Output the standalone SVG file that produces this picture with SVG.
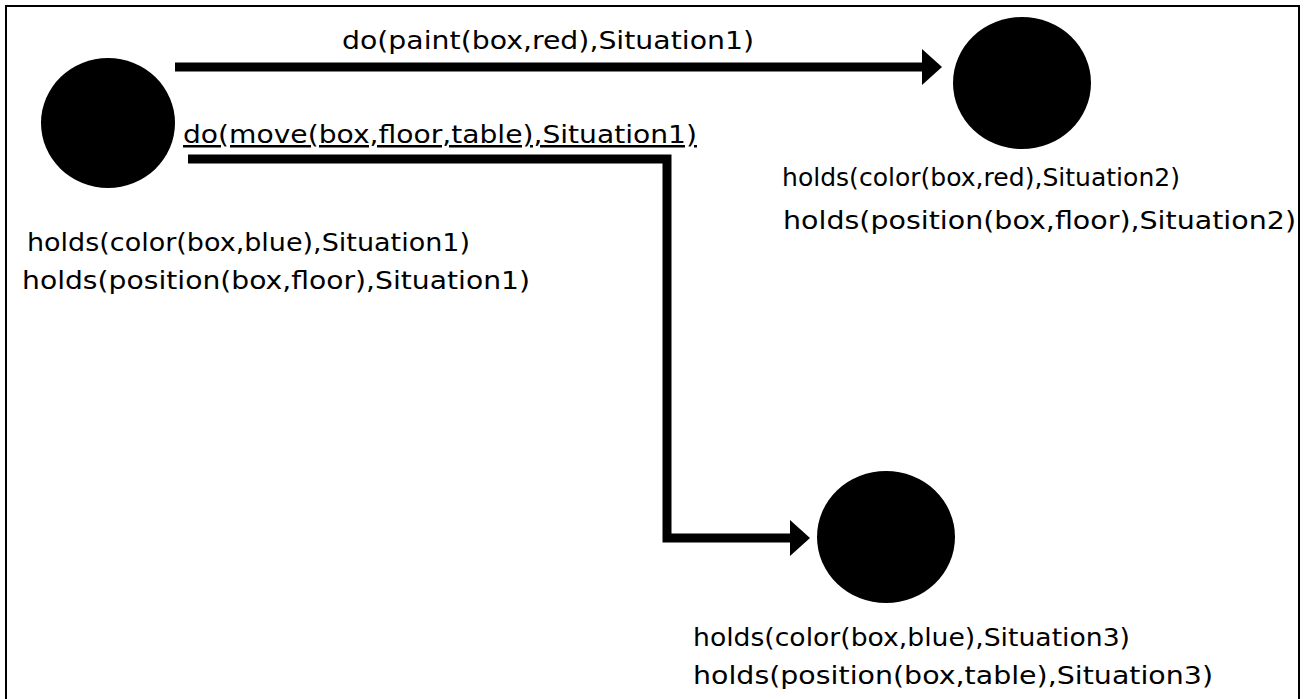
<svg xmlns="http://www.w3.org/2000/svg" width="1306" height="699" viewBox="0 0 1306 699">
  <defs>
    <style>
      .frame { fill: none; stroke: #000; stroke-width: 2; }
      .state { fill: #000; }
      .link { fill: none; stroke: #000; stroke-width: 9; stroke-linejoin: miter; }
      .lbl { font-family: "DejaVu Sans", "Liberation Sans", sans-serif; font-size: 25px; fill: #000; }
      .ul { text-decoration: underline; }
    </style>
    <marker id="head" viewBox="0 0 20 36" refX="2" refY="18" markerWidth="20" markerHeight="36" markerUnits="userSpaceOnUse" orient="auto">
      <path d="M0,0 L20,18 L0,36 Z" fill="#000"/>
    </marker>
  </defs>

  <rect width="1306" height="699" fill="#fff"/>
  <rect class="frame" x="6" y="6" width="1293" height="710"/>

  <!-- transitions between situations -->
  <g id="connectors">
    <path class="link" d="M175,67 H924" marker-end="url(#head)"/>
    <path class="link" d="M188,159 H667 V538 H792" marker-end="url(#head)"/>
    <text class="lbl" x="342" y="49" textLength="412" lengthAdjust="spacingAndGlyphs">do(paint(box,red),Situation1)</text>
    <text class="lbl ul" x="183" y="143" textLength="514" lengthAdjust="spacingAndGlyphs">do(move(box,floor,table),Situation1)</text>
  </g>

  <!-- Situation1 -->
  <g id="situation1">
    <ellipse class="state" cx="108" cy="123" rx="67" ry="65"/>
    <text class="lbl" x="27" y="251" textLength="443" lengthAdjust="spacingAndGlyphs">holds(color(box,blue),Situation1)</text>
    <text class="lbl" x="22" y="289" textLength="508" lengthAdjust="spacingAndGlyphs">holds(position(box,floor),Situation1)</text>
  </g>

  <!-- Situation2 -->
  <g id="situation2">
    <ellipse class="state" cx="1022" cy="83" rx="69" ry="66"/>
    <text class="lbl" x="782" y="186" textLength="398" lengthAdjust="spacingAndGlyphs">holds(color(box,red),Situation2)</text>
    <text class="lbl" x="783" y="229" textLength="513" lengthAdjust="spacingAndGlyphs">holds(position(box,floor),Situation2)</text>
  </g>

  <!-- Situation3 -->
  <g id="situation3">
    <ellipse class="state" cx="886" cy="537" rx="69" ry="66"/>
    <text class="lbl" x="693" y="646" textLength="437" lengthAdjust="spacingAndGlyphs">holds(color(box,blue),Situation3)</text>
    <text class="lbl" x="693" y="684" textLength="520" lengthAdjust="spacingAndGlyphs">holds(position(box,table),Situation3)</text>
  </g>
</svg>
